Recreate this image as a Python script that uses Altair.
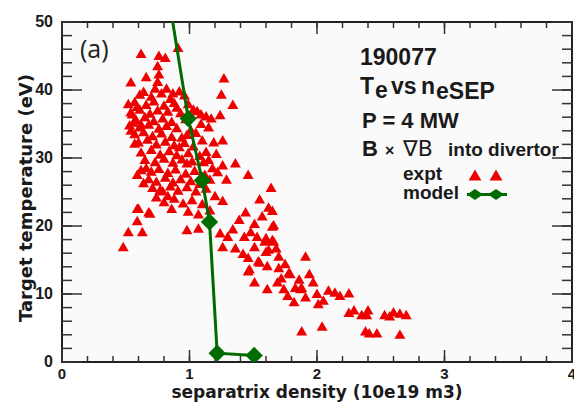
import altair as alt
import pandas as pd

# ---------------- data ----------------
expt_n = [
    0.91, 0.62, 0.76, 0.81, 0.75, 0.54, 0.66, 0.76, 0.75, 0.73,
    0.82, 0.61, 0.87, 0.92, 1.27, 1.25, 1.34, 1.24, 1.17, 1.09,
    1.03, 0.90, 1.10, 1.26, 1.13, 1.36, 1.26, 1.46, 1.29, 1.18,
    1.64, 1.11, 0.98, 0.92, 0.94, 1.09, 0.52, 0.55, 0.54, 0.57,
    0.59, 0.66, 0.64, 0.56, 0.59, 0.62,
    0.48, 0.52, 0.63, 0.59, 0.59, 0.69, 0.74, 0.83, 0.79, 0.60, 0.68,
    0.64, 0.70, 0.78, 0.85, 0.96,
    0.57, 0.66, 0.72, 0.80, 0.88, 0.99,
    0.54, 0.61, 0.69, 0.75, 0.83, 0.93, 1.06,
    0.58, 0.65, 0.72, 0.79, 0.86, 0.97, 1.13,
    0.53, 0.61, 0.68, 0.76, 0.82, 0.90, 1.01, 1.15,
    0.57, 0.64, 0.71, 0.78, 0.86, 0.98, 1.05,
    0.60, 0.67, 0.74, 0.81, 0.88, 0.96, 1.03, 1.19,
    0.62, 0.70, 0.77, 0.84, 0.90, 0.99, 1.08, 1.21,
    0.65, 0.73, 0.80, 0.87, 0.94, 1.02, 1.15,
    0.62, 0.70, 0.76, 0.83, 0.89, 0.97, 1.04, 1.12, 1.22,
    0.68, 0.74, 0.81, 0.87, 0.93, 1.01, 1.08, 1.16,
    0.71, 0.77, 0.85, 0.91, 0.98, 1.05, 1.13, 1.20, 1.26,
    0.80, 0.88, 0.95, 1.02, 1.10, 1.16, 0.86, 0.99, 1.07,
    0.98, 1.07, 1.24, 1.30, 1.26, 1.36, 1.43,
    1.44, 1.51, 1.48, 1.55, 1.51, 1.46, 1.47, 1.54, 1.62, 1.65,
    1.65, 1.60, 1.65, 1.60, 1.70, 1.61, 1.70, 1.78, 1.61, 1.69,
    1.74, 1.83, 1.88, 1.77, 1.82, 1.91, 1.66, 1.59, 1.66, 1.62,
    1.53, 1.46, 1.55, 1.51, 1.79, 1.91, 1.94, 1.97, 1.87, 2.09,
    2.14, 2.18, 2.25, 2.00, 2.01, 2.05, 2.25, 2.29, 2.35, 2.40,
    2.39, 2.53, 2.60, 2.65, 2.70, 2.57, 2.04, 1.88, 2.38, 2.41,
    2.47, 2.65, 1.72, 1.86, 1.75, 1.68, 1.39, 1.34, 1.42, 1.57,
]
expt_te = [
    46.3, 45.4, 45.1, 44.8, 43.6, 41.2, 42.0, 42.4, 41.3, 40.3,
    40.3, 39.4, 39.6, 39.9, 41.8, 39.4, 37.9, 36.4, 35.9, 36.5,
    37.2, 37.5, 32.7, 32.7, 31.0, 29.3, 29.0, 27.6, 26.9, 28.6,
    25.7, 29.5, 29.3, 31.7, 33.1, 35.1, 38.0, 36.5, 34.1, 32.2,
    27.6, 28.6, 26.4, 35.3, 37.6, 35.0,
    17.0, 19.2, 19.2, 20.8, 22.6, 21.9, 24.3, 24.5, 25.2, 22.6, 22.1,
    39.8, 39.1, 39.6, 38.8, 39.3,
    38.3, 37.9, 38.4, 37.8, 38.2, 38.0,
    36.8, 37.2, 36.6, 37.1, 36.9, 36.7, 37.0,
    35.7, 36.1, 35.5, 35.9, 35.4, 35.8, 36.2,
    34.9, 34.6, 35.0, 34.4, 34.8, 34.5, 34.2, 34.6,
    33.6, 33.9, 33.3, 33.7, 33.2, 33.5, 33.8,
    32.4, 32.8, 32.1, 32.5, 32.0, 32.3, 31.8, 32.4,
    30.9, 31.3, 30.6, 31.1, 30.5, 30.8, 30.4, 30.7,
    29.8, 29.5, 30.0, 29.4, 29.9, 29.6, 29.8,
    28.3, 28.1, 28.5, 27.9, 28.4, 27.8, 28.2, 27.6, 28.0,
    27.0, 26.6, 27.2, 26.5, 27.0, 26.7, 26.3, 26.9,
    25.7, 25.4, 25.9, 25.3, 25.8, 25.2, 25.6, 24.5, 23.8,
    23.6, 24.1, 23.4, 23.9, 23.3, 22.4, 22.6, 22.2, 21.8,
    19.5, 19.7, 19.0, 18.5, 17.0, 16.8, 18.5,
    22.1, 20.4, 19.2, 24.0, 17.0, 15.4, 13.7, 14.9, 22.8, 22.3,
    20.0, 18.3, 18.0, 16.3, 15.6, 14.2, 13.9, 13.2, 10.8, 11.8,
    10.8, 11.0, 11.0, 9.8, 8.9, 9.6, 20.2, 17.8, 17.8, 16.6,
    18.5, 13.4, 14.7, 11.8, 13.0, 15.6, 13.0, 11.8, 10.8, 10.6,
    10.3, 9.8, 10.2, 10.1, 8.6, 9.1, 7.3, 7.7, 7.0, 7.7,
    7.0, 7.0, 7.4, 7.2, 7.0, 6.8, 5.3, 4.6, 4.6, 4.3,
    4.3, 4.1, 12.4, 12.2, 14.5, 16.8, 21.0, 19.6, 16.0, 21.5,
]

model_n = [0.80, 0.99, 1.10, 1.157, 1.217, 1.507]
model_te = [58.0, 35.8, 26.7, 20.6, 1.3, 0.96]

x_major = [0, 1, 2, 3, 4]
x_labels = ["0", "1", "2", "3", "4"]
x_minor = [0, 0.2, 0.4, 0.6, 0.8, 1, 1.2, 1.4, 1.6, 1.8, 2, 2.2, 2.4, 2.6,
           2.8, 3, 3.2, 3.4, 3.6, 3.8, 4]
y_major = [0, 10, 20, 30, 40, 50]
y_labels = ["0", "10", "20", "30", "40", "50"]
y_minor = [0, 2, 4, 6, 8, 10, 12, 14, 16, 18, 20, 22, 24, 26, 28, 30, 32,
           34, 36, 38, 40, 42, 44, 46, 48, 50]

x_title = "separatrix density (10e19 m3)"
y_title = "Target temperature (eV)"

# ---------------- styling ----------------
W, H = 510, 340
X0, X1, Y0, Y1 = 0, 4, 0, 50
RED = "#ee0000"
GREEN = "#006b00"
INK = "#1a1a1a"
TICK = "#333333"
FONT = "Liberation Sans"

expt = pd.DataFrame({"n": expt_n, "te": expt_te})
model = pd.DataFrame({"n": model_n, "te": model_te})
one = pd.DataFrame({"k": [0]})

xs = alt.Scale(domain=[X0, X1], nice=False, zero=False)
ys = alt.Scale(domain=[Y0, Y1], nice=False, zero=False)

scatter = alt.Chart(expt).mark_point(
    shape="triangle-up", filled=True, size=120, color=RED, opacity=1
).encode(
    x=alt.X("n:Q", scale=xs, axis=alt.Axis(
        orient="bottom", values=x_major, ticks=False, domain=False, grid=False,
        labelFont=FONT, labelFontSize=16, labelFontWeight="bold",
        labelColor=INK, labelPadding=3, labelFlush=False, format="d",
        title="separatrix density (10e19 m3)", titleFont="DejaVu Sans",
        titleFontSize=18, titleFontWeight="bold", titleColor=INK,
        titleBaseline="alphabetic", titleY=34)),
    y=alt.Y("te:Q", scale=ys, axis=alt.Axis(
        orient="left", values=y_major, ticks=False, domain=False, grid=False,
        labelFont=FONT, labelFontSize=16, labelFontWeight="bold",
        labelColor=INK, labelPadding=9, labelFlush=False, format="d",
        title="Target temperature (eV)", titleFont="DejaVu Sans",
        titleFontSize=18, titleFontWeight="bold", titleColor=INK,
        titlePadding=3)),
)

# plot frame / background
frame = alt.Chart(one).mark_rect(
    fill="#fafafa", stroke="#222222", strokeWidth=2
).encode(x=alt.value(0), x2=alt.value(W), y=alt.value(0), y2=alt.value(H))


# inward ticks on all four sides, positioned through the scales
def xticks(vals, length):
    d = pd.DataFrame({"v": vals})
    xe = alt.X("v:Q", scale=xs, axis=None)
    bottom = alt.Chart(d).mark_rule(color=TICK, strokeWidth=1.5).encode(
        x=xe, y=alt.value(H), y2=alt.value(H - length))
    top = alt.Chart(d).mark_rule(color=TICK, strokeWidth=1.5).encode(
        x=xe, y=alt.value(0), y2=alt.value(length))
    return [bottom, top]


def yticks(vals, length):
    d = pd.DataFrame({"v": vals})
    ye = alt.Y("v:Q", scale=ys, axis=None)
    left = alt.Chart(d).mark_rule(color=TICK, strokeWidth=1.5).encode(
        y=ye, x=alt.value(0), x2=alt.value(length))
    right = alt.Chart(d).mark_rule(color=TICK, strokeWidth=1.5).encode(
        y=ye, x=alt.value(W), x2=alt.value(W - length))
    return [left, right]


ticks = xticks(x_minor, 6) + xticks(x_major, 12) + yticks(y_minor, 10) + yticks(y_major, 20)

mx = alt.X("n:Q", scale=xs, axis=None)
my = alt.Y("te:Q", scale=ys, axis=None)
model_line = alt.Chart(model).mark_line(
    color=GREEN, strokeWidth=3, clip=True).encode(x=mx, y=my)
model_pts = alt.Chart(model).mark_point(
    shape="diamond", filled=True, size=300, color=GREEN, opacity=1,
    clip=True).encode(x=mx, y=my)


def label(text, x, y, size, weight="bold", font=FONT, color=INK):
    return alt.Chart(one).mark_text(
        text=text, align="left", baseline="alphabetic", font=font,
        fontSize=size, fontWeight=weight, color=color
    ).encode(x=alt.value(x), y=alt.value(y))


def centered(text, x, y, size, align, baseline, font=FONT, angle=None):
    props = dict(text=text, align=align, baseline=baseline, font=font,
                 fontSize=size, fontWeight="bold", color=INK)
    if angle is not None:
        props["angle"] = angle
    return alt.Chart(one).mark_text(**props).encode(
        x=alt.value(x), y=alt.value(y))


texts = [
    label("(a)", 18, 36, 25, weight="normal", font="Open Sans", color="#222222"),
    label("190077", 298, 43, 23),
    label("T", 298, 72, 23),
    label("e", 313, 76, 23),
    label("vs", 329, 72, 23),
    label("n", 359, 72, 23),
    label("eSEP", 374, 77, 23),
    label("P = 4 MW", 300, 106, 22),
    label("B", 300, 134, 22),
    label("×", 323, 134, 16),
    label("∇B", 341, 134, 22, weight="normal", font="DejaVu Sans"),
    label("into divertor", 386, 134, 19),
    label("expt", 341, 158, 19),
    label("model", 341, 177, 19),
]

leg_tri = [
    alt.Chart(one).mark_point(shape="triangle-up", filled=True, size=165,
                              color=RED, opacity=1).encode(
        x=alt.value(px), y=alt.value(153))
    for px in (413, 434)
]
leg_line = alt.Chart(one).mark_rule(color=GREEN, strokeWidth=3).encode(
    x=alt.value(405), x2=alt.value(445), y=alt.value(172.5))
leg_dia = [
    alt.Chart(one).mark_point(shape="M-1,0L0,-0.68L1,0L0,0.68Z", filled=True,
                              size=256, color=GREEN, opacity=1).encode(
        x=alt.value(px), y=alt.value(172.5))
    for px in (413, 434)
]

# tick labels and axis titles (value positions follow the linear scales)
axis_text = []
for v, t in zip(x_major, x_labels):
    axis_text.append(centered(t, (v - X0) / (X1 - X0) * W, H + 5, 15,
                              "center", "top"))
for v, t in zip(y_major, y_labels):
    axis_text.append(centered(t, -9, H - (v - Y0) / (Y1 - Y0) * H, 16,
                              "right", "middle"))
axis_text.append(centered(x_title, W / 2, H + 36, 17, "center",
                          "alphabetic", font="DejaVu Sans"))
axis_text.append(centered(y_title, -35, H / 2 + 6, 18, "center", "middle",
                          font="DejaVu Sans", angle=270))

chart = alt.layer(
    frame, *ticks, scatter, model_line, model_pts, *texts, *leg_tri, leg_line,
    *leg_dia, *axis_text
).properties(
    width=W, height=H,
    autosize=alt.AutoSizeParams(type="none"),
    padding={"left": 54, "top": 14, "right": 2, "bottom": 40},
    background="white",
).configure_view(
    stroke="transparent"
)

chart.save("out.html", embed_options={"renderer": "svg", "actions": False})
